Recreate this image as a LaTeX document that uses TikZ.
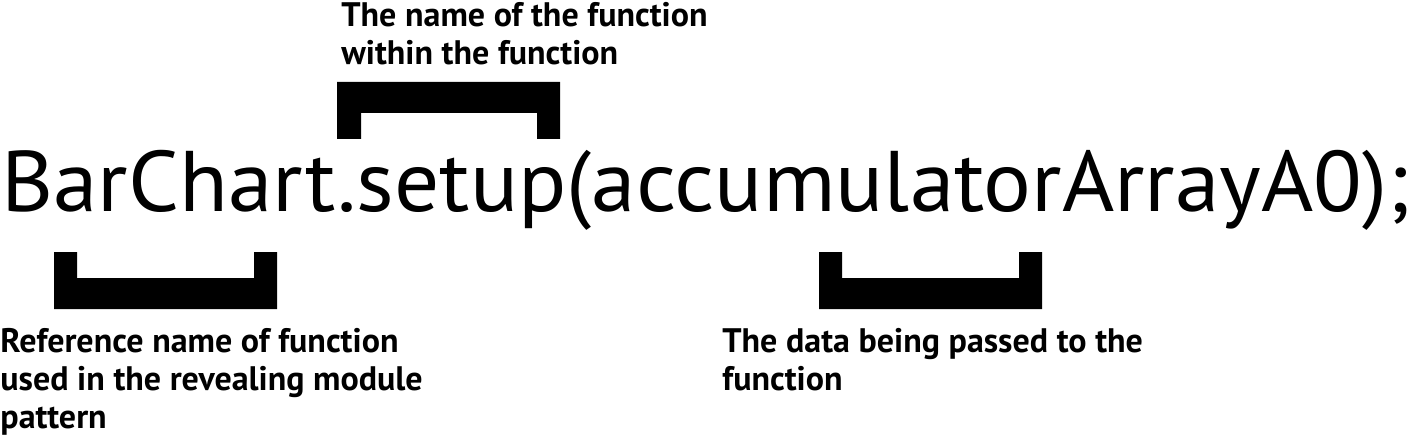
\documentclass[tikz,border=0pt]{standalone}
\usepackage{fontspec}
\setmainfont{PT Sans}
\newfontfamily\codefont{PT Sans}[FakeStretch=1.04]
\usepackage{tikz}

\tikzset{
  code/.style={inner sep=0pt, anchor=base west, font=\codefont\fontsize{43}{50}\selectfont},
  note/.style={inner sep=0pt, anchor=base west, align=left, font=\bfseries\fontsize{17}{19}\selectfont},
  brace/.style={fill=black}
}

\begin{document}
\begin{tikzpicture}[x=0.5pt,y=-0.5pt]
			\useasboundingbox (0,0) rectangle (1415,444);
			\node[code] (call) at (1,212) {BarChart.setup(accumulatorArrayA0);};
			% top bracket
			\fill[brace] (337,82) -- (560,82) -- (560,139) -- (537,139) -- (537,113) -- (361,113) -- (361,139) -- (337,139) -- cycle;
			% bottom brackets
			\foreach \a/\b in {54/277,819/1042}
				\fill[brace] (\a,252) -- (\a+23,252) -- (\a+23,278) -- (\b-23,278) -- (\b-23,252) -- (\b,252) -- (\b,309) -- (\a,309) -- cycle;
			% base anchor sits on the last line
			\node[note] (inner) at (341,65) {The name of the function\\within the function};
			\node[note] (refname) at (0,428) {Reference name of function\\used in the revealing module\\pattern};
			\node[note] (data) at (722,390) {The data being passed to the\\function};
  		\end{tikzpicture}
\end{document}
